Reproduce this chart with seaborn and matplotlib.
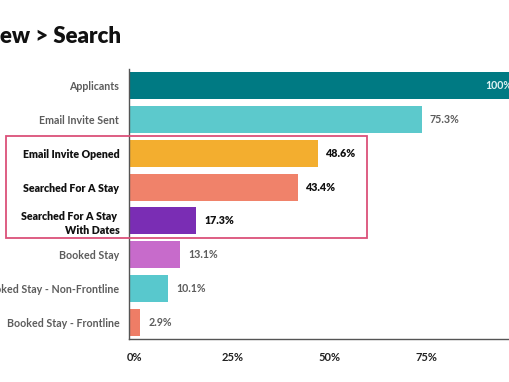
import matplotlib
matplotlib.use("Agg")
import matplotlib.pyplot as plt
import matplotlib.transforms as mtransforms
from matplotlib.patches import Rectangle
import seaborn as sns
import pandas as pd

categories = [
    "Applicants",
    "Email Invite Sent",
    "Email Invite Opened",
    "Searched For A Stay",
    "Searched For A Stay \nWith Dates",
    "Booked Stay",
    "Booked Stay - Non-Frontline",
    "Booked Stay - Frontline",
]
values = [100, 75.3, 48.6, 43.4, 17.3, 13.1, 10.1, 2.9]
value_labels = ["100%", "75.3%", "48.6%", "43.4%", "17.3%", "13.1%", "10.1%", "2.9%"]
highlighted = [False, False, True, True, True, False, False, False]
colors = ["#007A83", "#5CC9CC", "#F3AE2F", "#F0826A", "#7A2DB4", "#C76BCB", "#58C8CD", "#EE7D66"]
xticks = [0, 25, 50, 75, 100]
xtick_labels = ["0%", "25%", "50%", "75%", "100%"]
title = "ew > Search"

sns.set_theme(style="white")
plt.rcParams["font.family"] = ["Lato", "DejaVu Sans"]

W, H = 510, 382
fig = plt.figure(figsize=(W / 100, H / 100), dpi=100)
ax = fig.add_axes([129 / W, (H - 339.4) / H, 389 / W, 270.8 / H])

df = pd.DataFrame({"category": categories, "value": values})
sns.barplot(data=df, x="value", y="category", hue="category", palette=colors,
            legend=False, ax=ax, width=0.8, saturation=1, edgecolor="none")

ax.set_xlim(0, 100)
ax.set_xlabel("")
ax.set_ylabel("")
ax.set_xticks(xticks)
ax.set_xticklabels(xtick_labels, fontsize=8, fontweight="bold", color="#222222")
ax.tick_params(axis="x", length=0, pad=9)
ax.tick_params(axis="y", length=0, pad=7)
shift = mtransforms.ScaledTranslation(6 / 100, 0, fig.dpi_scale_trans)
for lab in ax.get_xticklabels():
    lab.set_transform(lab.get_transform() + shift)

ax.set_yticks(range(len(categories)))
ax.set_yticklabels(categories, fontsize=7.7)
for lab, hl in zip(ax.get_yticklabels(), highlighted):
    lab.set_fontweight("heavy" if hl else "bold")
    lab.set_color("#111111" if hl else "#5c5c5c")
    lab.set_linespacing(1.3)

for s in ["top", "right"]:
    ax.spines[s].set_visible(False)
for s in ["left", "bottom"]:
    ax.spines[s].set_color("#555555")
    ax.spines[s].set_linewidth(1.0)

offset = mtransforms.ScaledTranslation(8 / 100, 0, fig.dpi_scale_trans)
for i, (v, lab, hl) in enumerate(zip(values, value_labels, highlighted)):
    if v >= 100:
        ax.text(v, i, lab, ha="right", va="center", fontsize=7.7, fontweight="bold",
                color="#dff3f4",
                transform=ax.transData + mtransforms.ScaledTranslation(-6 / 100, 0, fig.dpi_scale_trans))
    else:
        ax.text(v, i, lab, ha="left", va="center", fontsize=7.7,
                fontweight="heavy" if hl else "bold",
                color="#111111" if hl else "#5c5c5c",
                transform=ax.transData + offset)

# highlight box around the three key steps
blend = mtransforms.blended_transform_factory(fig.transFigure, ax.transData)
box = Rectangle((6 / W, 1.5), (367 - 6) / W, 3.0, transform=blend, fill=False,
                edgecolor="#DB5079", linewidth=1.3, clip_on=False)
fig.add_artist(box)

fig.text(0, 1 - 43 / H, title, ha="left", va="baseline", fontsize=16,
         fontweight="heavy", color="#111111")

fig.savefig("out.png", dpi=100)
